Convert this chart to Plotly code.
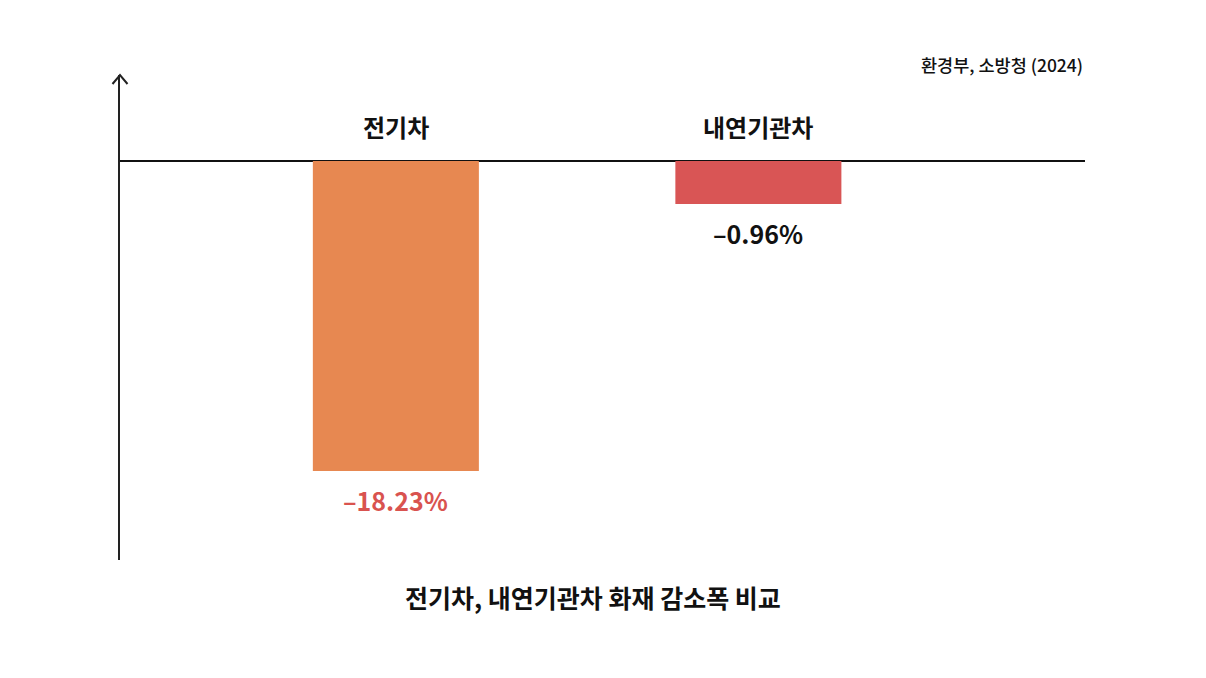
import plotly.graph_objects as go

# data
categories = ["전기차", "내연기관차"]
change_pct = [-18.23, -0.96]          # printed values
bar_heights = [-18.23, -2.53]         # drawn bar lengths (the small bar is drawn taller than scale)
bar_colors = ["#E78851", "#D95555"]
label_colors = ["#D9534F", "#111111"]
title_text = "전기차, 내연기관차 화재 감소폭 비교"
source_text = "환경부, 소방청 (2024)"

FONT = "Noto Sans CJK KR"
PLOT_W, PLOT_H = 965, 485

fig = go.Figure()
fig.add_trace(go.Bar(
    x=categories, y=bar_heights,
    marker=dict(color=bar_colors, line=dict(width=0)),
    width=0.458, hoverinfo="skip", showlegend=False,
))

# category names above the zero line
for cat in categories:
    fig.add_annotation(x=cat, y=0, yanchor="bottom", yshift=15, showarrow=False,
                       text=cat, font=dict(family=FONT, size=24, color="#111", weight=600))

# value labels under each bar end
for cat, h, v, c in zip(categories, bar_heights, change_pct, label_colors):
    fig.add_annotation(x=cat, y=h, yanchor="top", yshift=-9, showarrow=False,
                       text=f"\u2013{abs(v):.2f}%",
                       font=dict(family=FONT, size=25, color=c, weight=600))

# open chevron on top of the y axis
dx, dy = 7.5 / PLOT_W, 9 / PLOT_H
fig.add_shape(type="path", xref="paper", yref="paper",
              path=f"M {-dx} {1 - dy} L 0 1 L {dx} {1 - dy}",
              line=dict(color="#222", width=2))

fig.add_annotation(xref="paper", yref="paper", x=0.490, y=-37 / PLOT_H, yanchor="middle",
                   showarrow=False, text=title_text,
                   font=dict(family=FONT, size=25, color="#111", weight=700))
fig.add_annotation(xref="paper", yref="paper", x=1.0, y=1 + 11 / PLOT_H, xanchor="right",
                   yanchor="middle", showarrow=False, text=source_text,
                   font=dict(family=FONT, size=17.5, color="#111", weight=500))

fig.update_layout(
    width=1206, height=678,
    margin=dict(l=112, r=129, t=67, b=126),
    paper_bgcolor="white", plot_bgcolor="white",
    xaxis=dict(range=[-0.761, 1.901], showticklabels=False, showgrid=False,
               zeroline=False, showline=False, fixedrange=True),
    yaxis=dict(range=[-23.47, 5.06], showticklabels=False, showgrid=False,
               zeroline=True, zerolinecolor="#111", zerolinewidth=2,
               showline=True, linecolor="#222", linewidth=2, ticks="",
               fixedrange=True),
    font=dict(family=FONT),
)

fig.write_html("out.html")
